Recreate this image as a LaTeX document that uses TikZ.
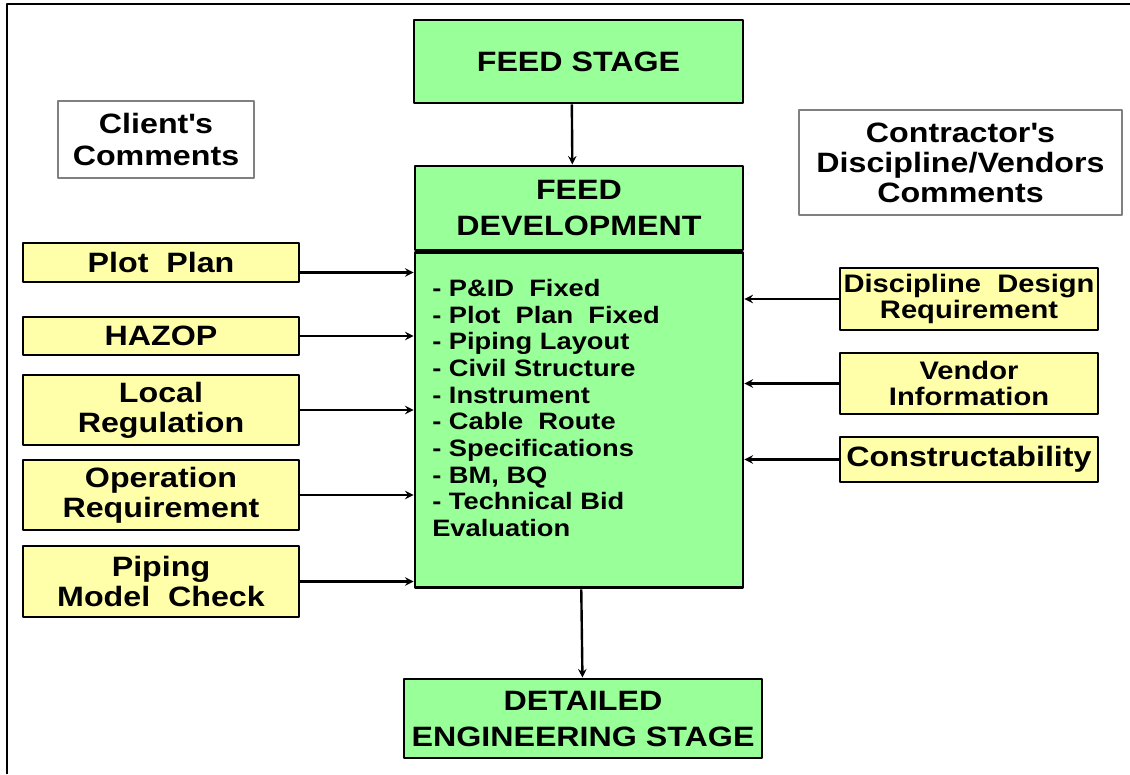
\documentclass[tikz,border=0pt]{standalone}
\usepackage{fontspec}
\setmainfont{Liberation Sans}[FakeStretch=1.15]
\definecolor{feedgreen}{RGB}{153,255,153}
\definecolor{noteyellow}{RGB}{255,255,170}
\begin{document}
\begin{tikzpicture}[x=0.75pt,y=-0.75pt,>=stealth,line join=round,
	stagebox/.style={draw,line width=2.2pt,fill=feedgreen,align=center,inner sep=0pt,font=\fontsize{21}{27}\selectfont\bfseries},
	inbox/.style={draw,line width=2.2pt,fill=noteyellow,align=center,inner sep=0pt,font=\fontsize{21}{22.5}\selectfont\bfseries},
	vendbox/.style={inbox,minimum width=193.5pt,font=\fontsize{19}{19}\selectfont\bfseries},
	commentbox/.style={draw=gray,line width=1.2pt,fill=white,align=center,inner sep=0pt,font=\fontsize{21}{24}\selectfont\bfseries},
	feed/.style={->,line width=1.8pt}]
	\useasboundingbox (0,0) rectangle (1130,774);
	\draw[line width=1.2pt] (7,774)--(7,4)--(1130,4);
	% main column
	\node[stagebox,minimum width=246.75pt,minimum height=62.25pt] (stage) at (578.5,61.5) {FEED STAGE};
	\node[stagebox,minimum width=246pt,minimum height=63pt] (devhead) at (579,208) {FEED\\DEVELOPMENT};
	\node[stagebox,minimum width=246pt,minimum height=251.25pt,anchor=north] (dev) at (devhead.south) {};
	\node[anchor=north west,inner sep=0pt,align=left,font=\fontsize{17.8}{20}\selectfont\bfseries] (devlist) at (432,279)
	{- P\&ID~ Fixed\\- Plot~ Plan~ Fixed\\- Piping Layout\\- Civil Structure\\- Instrument\\- Cable~ Route\\- Specifications\\- BM, BQ\\- Technical Bid\\Evaluation};
	\node[stagebox,minimum width=268.5pt,minimum height=59.25pt] (detail) at (583,718.5) {DETAILED\\ENGINEERING STAGE};
	% comments
	\node[commentbox,minimum width=147pt,minimum height=57.75pt] (client) at (156,139.5) {Client\textquotesingle s\\Comments};
	\node[commentbox,minimum width=242.25pt,minimum height=78.75pt,font=\fontsize{21}{22.5}\selectfont\bfseries] (contractor) at (960.5,162.5) {Contractor\textquotesingle s\\Discipline/Vendors\\Comments};
	% client side inputs
	\node[inbox,minimum width=207pt,minimum height=29.25pt] (plot) at (161,262.5) {Plot~ Plan};
	\node[inbox,minimum width=207pt,minimum height=28.5pt] (hazop) at (161,336) {HAZOP};
	\node[inbox,minimum width=207pt,minimum height=52.5pt] (localreg) at (161,410) {Local\\Regulation};
	\node[inbox,minimum width=207pt,minimum height=52.5pt] (operreq) at (161,495) {Operation\\Requirement};
	\node[inbox,minimum width=207pt,minimum height=53.25pt] (pipcheck) at (161,581.5) {Piping\\Model~ Check};
	% contractor side inputs
	\node[vendbox,minimum height=46.5pt] (discreq) at (969,299) {Discipline~ Design\\Requirement};
	\node[vendbox,minimum height=45.75pt] (vendor) at (969,383.5) {Vendor\\Information};
	\node[vendbox,minimum height=33.75pt,font=\fontsize{21}{24}\selectfont\bfseries] (construct) at (969,459.5) {Constructability};
	% connectors
	\draw[feed] ([xshift=-5pt]stage.south)--([xshift=-5pt]devhead.north);
	\draw[feed] (dev)--(detail);
	\draw[feed] ([yshift=-7.5pt]plot.east)--([yshift=-7.5pt]plot.east -| dev.west);
	\foreach \n in {hazop,localreg,operreq,pipcheck}
		\draw[feed] (\n.east)--(\n.east -| dev.west);
	\foreach \n in {discreq,vendor,construct}
		\draw[feed] (\n.west)--(\n.west -| dev.east);
\end{tikzpicture}
\end{document}
